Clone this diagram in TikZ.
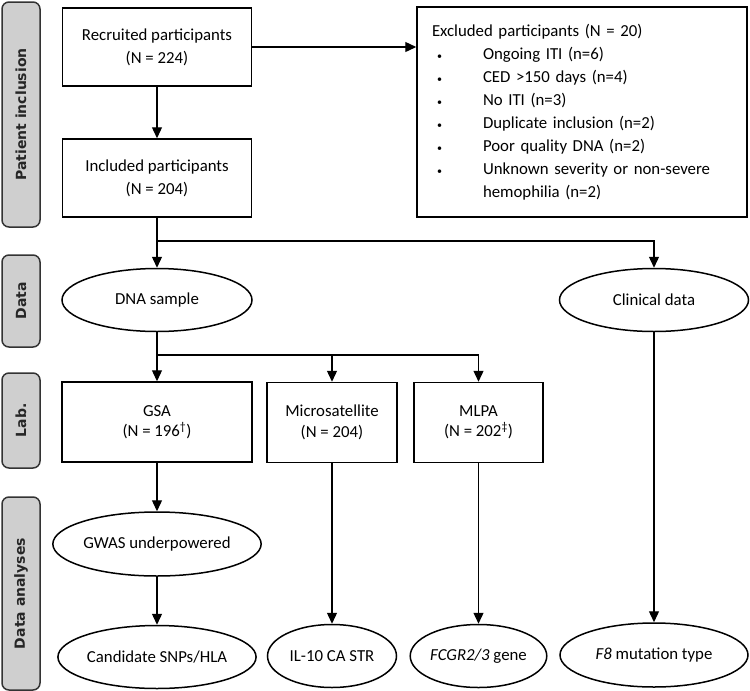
\documentclass[tikz,border=0pt]{standalone}
\usepackage{fontspec}
\setmainfont{Carlito}
\newfontfamily\barfont{DejaVu Sans}
\usetikzlibrary{arrows.meta,shapes.geometric}
\definecolor{bargray}{HTML}{CFCFCF}
\definecolor{bardraw}{HTML}{333333}
\newcommand{\exitem}[1]{\makebox[51pt][l]{\hspace{5pt}{\fontsize{10}{10}\selectfont\textbullet}}#1}
\begin{document}
\begin{tikzpicture}[x=1pt,y=-1pt,>={Triangle[width=10pt,length=11pt]},
  box/.style={draw,line width=1.5pt,align=center,inner sep=0pt,font=\fontsize{16.8}{23}\selectfont},
  labbox/.style={box,minimum height=80,font=\fontsize{16.8}{20.5}\selectfont},
  oval/.style={ellipse,draw,line width=1.5pt,align=center,inner sep=0pt,font=\fontsize{16.8}{20}\selectfont},
  bar/.style={draw=bardraw,fill=bargray,line width=1.5pt,rounded corners=7pt,rotate=90,
    minimum height=38,inner sep=0pt,text=black!85,font=\barfont\bfseries\fontsize{14}{16}\selectfont},
  link/.style={->,line width=1.3pt}]
  \useasboundingbox (0,0) rectangle (750,691);

  % Bandeaux lateraux
  \node[bar,minimum width=225] (lpat) at (21,114.5) {Patient inclusion};
  \node[bar,minimum width=92] (ldata) at (21,301) {Data};
  \node[bar,minimum width=95] (llab) at (21,420.5) {Lab.};
  \node[bar,minimum width=193] (lana) at (21,593.5) {Data analyses};

  % Inclusion
  \node[box,minimum width=189,minimum height=78] (rec) at (157,47) {Recruited participants\\(N = 224)};
  \node[box,minimum width=189,minimum height=78] (inc) at (157,178) {Included participants\\(N = 204)};
  \node[box,minimum width=330,minimum height=210,text width=300,inner xsep=15pt,align=left] (excl) at (582,112)
    {Excluded participants (N = 20)\\
     \exitem{Ongoing ITI (n=6)}\\
     \exitem{CED >150 days (n=4)}\\
     \exitem{No ITI (n=3)}\\
     \exitem{Duplicate inclusion (n=2)}\\
     \exitem{Poor quality DNA (n=2)}\\
     \exitem{Unknown severity or non-severe}\\
     \hspace*{51pt}hemophilia (n=2)};

  % Donnees
  \node[oval,minimum width=190,minimum height=63] (dna) at (157,300) {DNA sample};
  \node[oval,minimum width=189,minimum height=63] (clin) at (654,300) {Clinical data};

  % Laboratoire
  \node[labbox,minimum width=190] (gsa) at (157,422) {GSA\\(N = 196\textsuperscript{\textdagger})};
  \node[labbox,minimum width=130] (micro) at (332,422.5) {Microsatellite\\(N = 204)};
  \node[labbox,minimum width=129] (mlpa) at (478.5,422.5) {MLPA\\(N = 202\textsuperscript{\textdaggerdbl})};

  % Analyses
  \node[oval,minimum width=189,minimum height=64] (gwas) at (157,544) {GWAS underpowered};
  \node[oval,minimum width=189,minimum height=63] (cand) at (157,657) {Candidate SNPs/HLA};
  \node[oval,minimum width=129,minimum height=63] (il10) at (332,656) {IL-10 CA STR};
  \node[oval,minimum width=129,minimum height=63] (fcgr) at (478.5,656) {\textit{FCGR2/3} gene};
  \node[oval,minimum width=188,minimum height=64] (f8) at (654,655) {\textit{F8} mutation type};

  % Liaisons
  \coordinate (split1) at (157,241);
  \coordinate (split2) at (157,355);
  \draw[link] (rec) -- (inc);
  \draw[link] (rec.east) -- (rec.east -| excl.west);
  \draw[link] (inc) -- (dna);
  \draw[link] (split1) -| (clin);
  \draw[link] (dna) -- (gsa);
  \draw[link] (split2) -| (micro);
  \draw[link] (split2) -| (mlpa);
  \draw[link] (gsa) -- (gwas);
  \draw[link] (gwas) -- (cand);
  \draw[link] (micro) -- (il10);
  \draw[link] (mlpa) -- (fcgr);
  \draw[link] (clin) -- (f8);
\end{tikzpicture}
\end{document}
